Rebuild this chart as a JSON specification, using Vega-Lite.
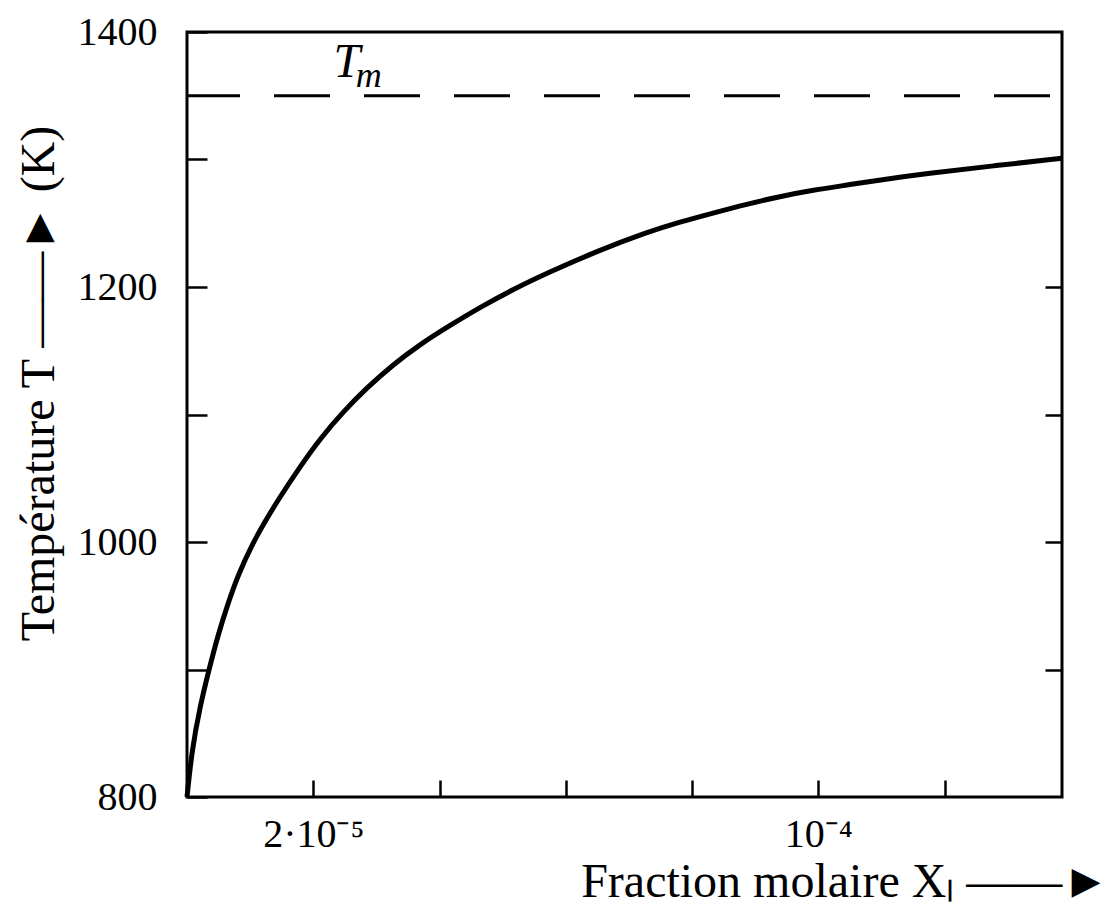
{
  "$schema": "https://vega.github.io/schema/vega-lite/v6.json",
  "width": 875,
  "height": 765,
  "autosize": {"type": "none"},
  "padding": {"left": 187, "top": 32, "right": 50, "bottom": 109},
  "background": "white",
  "config": {
    "view": {"stroke": "black", "strokeWidth": 3},
    "font": "Liberation Serif",
    "axis": {
      "domain": false,
      "grid": false,
      "tickColor": "black",
      "tickWidth": 2.5,
      "labelColor": "black",
      "labelFont": "Liberation Serif",
      "labelFontSize": 40,
      "titleFont": "Liberation Serif",
      "titleFontWeight": "normal",
      "titleColor": "black",
      "titleFontSize": 48
    }
  },
  "datasets": {
    "curve": [
      {"x": 0.0, "T": 800},
      {"x": 0.00000079, "T": 837},
      {"x": 0.00000206, "T": 871},
      {"x": 0.00000349, "T": 900},
      {"x": 0.00000491, "T": 927},
      {"x": 0.0000065, "T": 952},
      {"x": 0.00000808, "T": 974},
      {"x": 0.0000103, "T": 998},
      {"x": 0.00001236, "T": 1016},
      {"x": 0.00001442, "T": 1033},
      {"x": 0.0000179, "T": 1059},
      {"x": 0.00002107, "T": 1081},
      {"x": 0.00002471, "T": 1102},
      {"x": 0.0000285, "T": 1121},
      {"x": 0.0000326, "T": 1139},
      {"x": 0.0000369, "T": 1155},
      {"x": 0.0000417, "T": 1170},
      {"x": 0.0000464, "T": 1184},
      {"x": 0.0000516, "T": 1198},
      {"x": 0.0000575, "T": 1212},
      {"x": 0.0000654, "T": 1229},
      {"x": 0.0000729, "T": 1243},
      {"x": 0.0000781, "T": 1251},
      {"x": 0.0000833, "T": 1258},
      {"x": 0.0000887, "T": 1265},
      {"x": 0.0000939, "T": 1271},
      {"x": 0.0000992, "T": 1276},
      {"x": 0.0001046, "T": 1280},
      {"x": 0.0001098, "T": 1284},
      {"x": 0.0001172, "T": 1289},
      {"x": 0.0001277, "T": 1295},
      {"x": 0.0001386, "T": 1301}
    ],
    "melt": [{"T": 1350, "label": "T", "sub": "m", "x": 0.0000253, "xs": 0.0000288, "Tl": 1365, "Ts": 1357}]
  },
  "layer": [
    {
      "data": {"name": "curve"},
      "mark": {"type": "line", "color": "black", "strokeWidth": 5, "interpolate": "basis"},
      "encoding": {
        "x": {
          "field": "x",
          "type": "quantitative",
          "scale": {"domain": [0, 0.0001386], "nice": false, "zero": false},
          "axis": {
            "orient": "bottom",
            "values": [0.00002, 0.00004, 0.00006, 0.00008, 0.0001, 0.00012],
            "tickSize": -17,
            "labelPadding": 34,
            "labelExpr": "abs(datum.value - 0.00002) < 1e-9 ? '2·10⁻⁵' : (abs(datum.value - 0.0001) < 1e-9 ? '10⁻⁴' : '')",
            "title": "Fraction molaire Xₗ ——►",
            "titleX": 658,
            "titleY": 99,
            "titleAlign": "center",
            "titleBaseline": "alphabetic",
            "titleAngle": 0
          }
        },
        "y": {
          "field": "T",
          "type": "quantitative",
          "scale": {"domain": [800, 1400], "nice": false, "zero": false},
          "axis": {
            "orient": "left",
            "values": [800, 900, 1000, 1100, 1200, 1300, 1400],
            "tickSize": -20,
            "labelPadding": 50,
            "labelExpr": "datum.value % 200 == 0 ? datum.value : ''",
            "title": "Température  T ——► (K)",
            "titleX": -148,
            "titleY": 351,
            "titleAngle": 270,
            "titleAlign": "center",
            "titleBaseline": "middle"
          }
        }
      }
    },
    {
      "data": {"name": "melt"},
      "mark": {"type": "rule", "color": "black", "strokeWidth": 3, "strokeDash": [56, 34], "strokeDashOffset": 78},
      "encoding": {
        "y": {
          "field": "T",
          "type": "quantitative",
          "axis": {
            "orient": "right",
            "values": [900, 1000, 1100, 1200, 1300],
            "tickSize": -17,
            "labels": false,
            "title": null
          }
        }
      }
    },
    {
      "data": {"name": "melt"},
      "mark": {"type": "text", "font": "Liberation Serif", "fontStyle": "italic", "fontSize": 48, "align": "center", "baseline": "alphabetic", "color": "black"},
      "encoding": {
        "text": {"field": "label"},
        "x": {"field": "x", "type": "quantitative"},
        "y": {"field": "Tl", "type": "quantitative", "axis": null}
      }
    },
    {
      "data": {"name": "melt"},
      "mark": {"type": "text", "font": "Liberation Serif", "fontStyle": "italic", "fontSize": 36, "align": "center", "baseline": "alphabetic", "color": "black"},
      "encoding": {
        "text": {"field": "sub"},
        "x": {"field": "xs", "type": "quantitative"},
        "y": {"field": "Ts", "type": "quantitative", "axis": null}
      }
    }
  ],
  "resolve": {"scale": {"y": "shared", "x": "shared"}, "axis": {"y": "independent"}}
}
